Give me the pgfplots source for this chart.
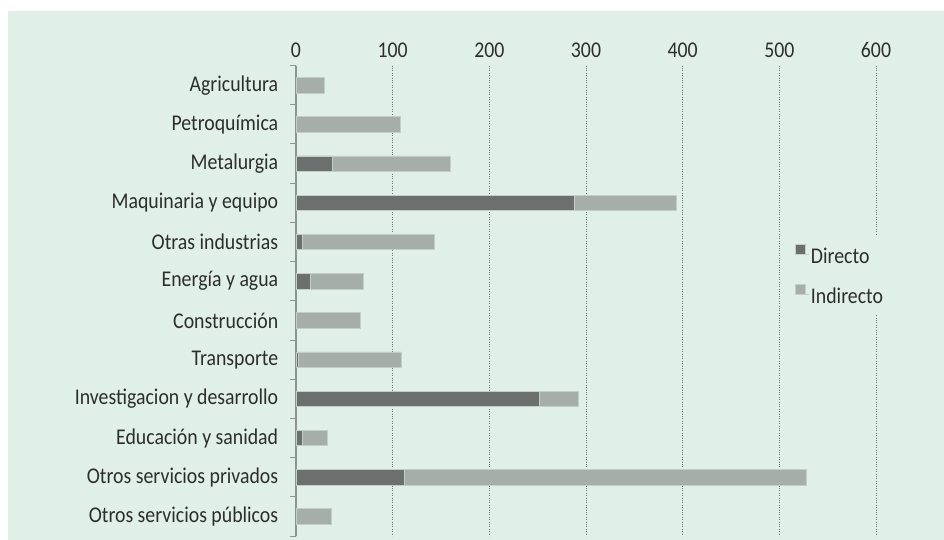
\documentclass[border=0pt]{standalone}
\usepackage{fontspec}
\setmainfont[FakeStretch=0.88]{Carlito}
\usepackage{pgfplots}
\usepackage{pgfplotstable}
\pgfplotsset{compat=1.18}
\definecolor{bg}{RGB}{224,240,233}
\definecolor{darkbar}{RGB}{107,112,111}
\definecolor{lightbar}{RGB}{166,174,170}
\definecolor{barline}{RGB}{196,206,201}
\definecolor{axisgrey}{RGB}{140,148,145}
\definecolor{gridgrey}{RGB}{110,118,115}
\definecolor{txt}{RGB}{45,45,45}

\pgfplotstableread{
y d i
0 0 29
1 0 107.5
2 38 121.6
3 287.5 105.5
4 6 137
5 15 55
6 0 67
7 2 107
8 252 40
9 6 26
10 111.6 415.8
11 0 36
}\data

\begin{document}
\begin{tikzpicture}[x=1pt,y=1pt]
\useasboundingbox (0,0) rectangle (944,540);
\fill[bg] (8,0) rectangle (944,529);
\begin{axis}[
  at={(296pt,4pt)}, anchor=south west,
  scale only axis, width=580pt, height=470.4pt,
  xbar stacked, bar width=15.3pt,
  xmin=0, xmax=600, ymin=-0.5, ymax=11.5, y dir=reverse,
  axis y line*=left, axis x line*=top,
  x axis line style={draw=none},
  y axis line style={draw=axisgrey, line width=1.2pt, -},
  xtick={0,100,...,600},
  xtick style={draw=none},
  xmajorgrids, grid style={gridgrey, dotted, line width=1pt},
  ytick={0,...,11},
  yticklabels={Agricultura, Petroquímica, Metalurgia, Maquinaria y equipo, Otras industrias, Energía y agua, Construcción, Transporte, Investigacion y desarrollo, Educación y sanidad, Otros servicios privados, Otros servicios públicos},
  major y tick style={draw=none},
  minor ytick={-0.5,0.5,...,11.5},
  minor y tick style={draw=axisgrey, line width=1pt},
  minor tick length=6pt,
  tick align=outside,
  /pgf/number format/assume math mode=true,
  tick label style={font=\fontsize{22.5}{22.5}\selectfont, text=txt},
  yticklabel style={xshift=-10pt},
  legend style={at={(0.852,0.638)}, anchor=north west, draw=none, fill=bg,
    font=\fontsize{22.5}{22.5}\selectfont, text=txt, row sep=17pt, inner xsep=4pt, inner ysep=8pt},
  legend cell align=left,
  legend image code/.code={\fill[#1] (1pt,2pt) rectangle (11pt,12pt); \path (0pt,2pt) -- (14pt,2pt);},
]
\addplot[fill=darkbar, draw=barline, line width=0.6pt] table[x=d,y=y]{\data};
\addplot[fill=lightbar, draw=barline, line width=0.6pt] table[x=i,y=y]{\data};
\legend{Directo, Indirecto}
\end{axis}
\end{tikzpicture}
\end{document}
